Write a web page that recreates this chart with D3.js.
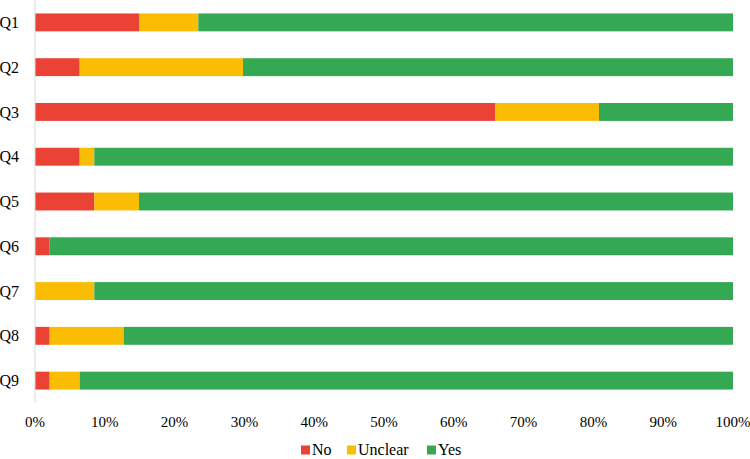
<!DOCTYPE html>
<html>
<head>
<meta charset="utf-8">
<script src="https://cdn.jsdelivr.net/npm/d3@7"></script>
<style>
  body { margin: 0; background: #fff; }
  text { font-family: "Liberation Serif", "Times New Roman", serif; fill: #000; }
</style>
</head>
<body>
<svg id="svg"></svg>
<script>
const questions = ['Q1', 'Q2', 'Q3', 'Q4', 'Q5', 'Q6', 'Q7', 'Q8', 'Q9'];
const noValues      = [14.9, 6.4, 65.9, 6.4, 8.5, 2.1, 0, 2.1, 2.1];
const unclearValues = [8.5, 23.4, 14.9, 2.1, 6.4, 0, 8.5, 10.6, 4.3];
const yesValues     = [76.6, 70.2, 19.2, 91.5, 85.1, 97.9, 91.5, 87.3, 93.6];
const seriesNames = ['No', 'Unclear', 'Yes'];
const seriesColors = ['#EA4335', '#FBBC04', '#34A853'];
const xTicks = [0, 10, 20, 30, 40, 50, 60, 70, 80, 90, 100];

const width = 750;
const height = 459;
const margin = { top: 0, right: 17, bottom: 56, left: 35 };

const svg = d3.select('#svg')
  .attr('width', width)
  .attr('height', height);

const rows = questions.map((q, i) => ({
  q: q, No: noValues[i], Unclear: unclearValues[i], Yes: yesValues[i]
}));

const stacked = d3.stack().keys(seriesNames)(rows);

const x = d3.scaleLinear()
  .domain([0, 100])
  .range([margin.left, width - margin.right]);

const y = d3.scaleBand()
  .domain(questions)
  .range([margin.top, height - margin.bottom])
  .paddingInner(0.6)
  .paddingOuter(0.3);

const color = d3.scaleOrdinal().domain(seriesNames).range(seriesColors);

svg.append('g')
  .selectAll('g')
  .data(stacked)
  .enter()
  .append('g')
  .attr('fill', d => color(d.key))
  .selectAll('rect')
  .data(d => d)
  .enter()
  .append('rect')
  .attr('x', d => x(d[0]))
  .attr('width', d => x(d[1]) - x(d[0]))
  .attr('y', d => y(d.data.q))
  .attr('height', y.bandwidth());

// vertical axis line
svg.append('line')
  .attr('x1', x(0)).attr('x2', x(0))
  .attr('y1', margin.top).attr('y2', height - margin.bottom)
  .attr('stroke', '#d9d9d9')
  .attr('stroke-width', 1);

// category labels
svg.append('g')
  .selectAll('text')
  .data(questions)
  .enter()
  .append('text')
  .attr('x', 19)
  .attr('y', d => y(d) + y.bandwidth() / 2)
  .attr('dy', '0.35em')
  .attr('text-anchor', 'end')
  .style('font-size', '16px')
  .text(d => d);

// x tick labels
svg.append('g')
  .selectAll('text')
  .data(xTicks)
  .enter()
  .append('text')
  .attr('x', d => x(d))
  .attr('y', 422)
  .attr('dy', '0.35em')
  .attr('text-anchor', 'middle')
  .style('font-size', '15px')
  .text(d => d + '%');

// legend
const legendX = [301, 347, 427];
const legend = svg.append('g')
  .selectAll('g')
  .data(seriesNames)
  .enter()
  .append('g')
  .attr('transform', (d, i) => 'translate(' + legendX[i] + ',450)');

legend.append('rect')
  .attr('x', 0).attr('y', -4.5)
  .attr('width', 9).attr('height', 9)
  .attr('fill', d => color(d));

legend.append('text')
  .attr('x', 11)
  .attr('y', 0)
  .attr('dy', '0.3em')
  .style('font-size', '16px')
  .text(d => d);
</script>
</body>
</html>
